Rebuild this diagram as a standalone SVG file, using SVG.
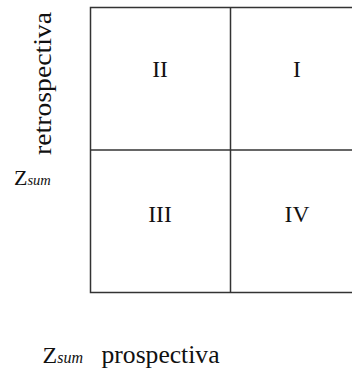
<svg xmlns="http://www.w3.org/2000/svg" width="352" height="371" viewBox="0 0 352 371">
<style>
.ln{fill:none;stroke:#333;stroke-width:1.5}
.t{font-family:"Liberation Serif","Times New Roman",serif;fill:#111}
.num{font-size:23.5px;text-anchor:middle}
.sub{font-style:italic}
</style>
<rect width="352" height="371" fill="#fff"/>
<g id="grid">
<rect class="ln" x="90.5" y="7.5" width="274" height="285"/>
<line class="ln" x1="230.5" y1="7.5" x2="230.5" y2="292.5"/>
<line class="ln" x1="90.5" y1="150" x2="364.5" y2="150"/>
</g>
<g id="q2"><text class="t num" x="160" y="77">II</text></g>
<g id="q1"><text class="t num" x="297" y="77">I</text></g>
<g id="q3"><text class="t num" x="160" y="222">III</text></g>
<g id="q4"><text class="t num" x="297" y="222">IV</text></g>
<g id="ylabel">
<text class="t" font-size="26" transform="translate(51,155) rotate(-90)" textLength="143" lengthAdjust="spacingAndGlyphs">retrospectiva</text>
<text class="t" font-size="22" x="14" y="185">Z<tspan class="sub" font-size="14.5">sum</tspan></text>
</g>
<g id="xlabel">
<text class="t" font-size="24" x="42.5" y="363.3">Z<tspan class="sub" font-size="16">sum</tspan></text>
<text class="t" font-size="26" x="101.5" y="363.3" textLength="118" lengthAdjust="spacingAndGlyphs">prospectiva</text>
</g>
</svg>
